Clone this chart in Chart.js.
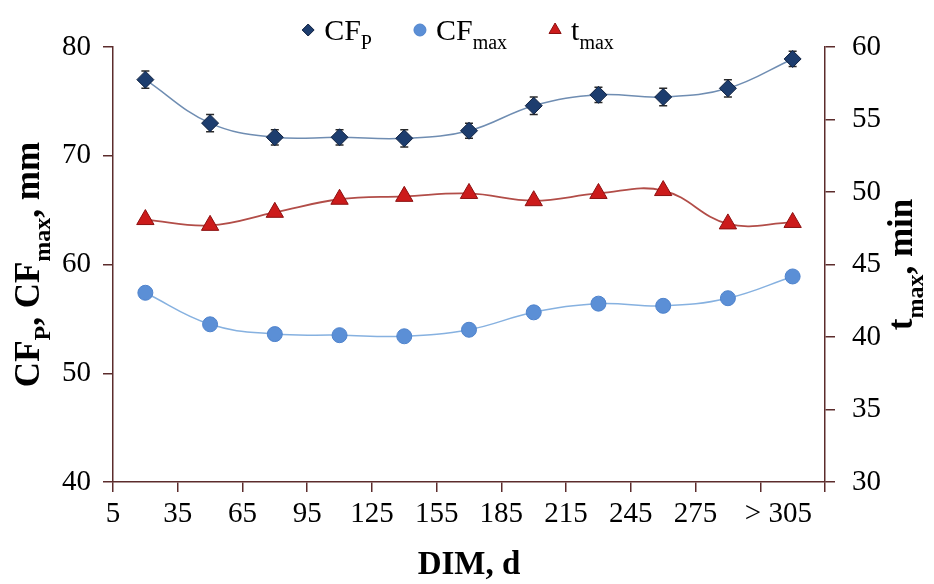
<!DOCTYPE html>
<html>
<head>
<meta charset="utf-8">
<title>CF and t_max over DIM</title>
<script src="https://cdn.jsdelivr.net/npm/chart.js@4.4.1/dist/chart.umd.min.js"></script>
<style>
  html, body { margin: 0; padding: 0; background: #fff; }
  #wrap { width: 934px; height: 584px; }
</style>
</head>
<body>
<div id="wrap"><canvas id="dimChart" width="934" height="584"></canvas></div>
<script>
// DIM classes (days in milk): labels sit on class boundaries,
// measured values sit in the middle of each class
const dimTicks = [5, 35, 65, 95, 125, 155, 185, 215, 245, 275, 305, 335];
const dimTickLabels = ['5', '35', '65', '95', '125', '155', '185', '215', '245', '275', '     > 305', ''];
const dimMid = [20, 50, 80, 110, 140, 170, 200, 230, 260, 290, 320];

// CF_P and CF_max in mm (left axis), t_max in min (right axis)
const cfP    = [77.0, 73.0, 71.7, 71.7, 71.6, 72.3, 74.6, 75.6, 75.4, 76.2, 78.9];
const cfPErr = [0.8, 0.8, 0.7, 0.7, 0.8, 0.7, 0.8, 0.7, 0.8, 0.8, 0.7];
const cfMax  = [57.4, 54.5, 53.6, 53.5, 53.4, 54.0, 55.6, 56.4, 56.2, 56.9, 58.9];
const tMax   = [48.1, 47.7, 48.6, 49.5, 49.7, 49.9, 49.4, 49.9, 50.1, 47.8, 47.9];

const axisColor = '#5c2c2c';
const serif = '"Liberation Serif", "Times New Roman", serif';
const tickFont = { family: serif, size: 29 };

function points(ys) {
    return dimMid.map((x, i) => ({ x: x, y: ys[i] }));
}

// text with subscripts: parts = [[text, isSub], ...], y is the baseline
function richWidth(ctx, parts, size, bold) {
    let w = 0;
    parts.forEach(p => {
        ctx.font = (bold ? 'bold ' : '') + (p[1] ? Math.round(size * 0.68) : size) + 'px ' + serif;
        w += ctx.measureText(p[0]).width;
    });
    return w;
}

function drawRich(ctx, parts, x, y, size, bold) {
    let cx = x;
    parts.forEach(p => {
        ctx.font = (bold ? 'bold ' : '') + (p[1] ? Math.round(size * 0.68) : size) + 'px ' + serif;
        ctx.fillText(p[0], cx, p[1] ? y + size * 0.3 : y);
        cx += ctx.measureText(p[0]).width;
    });
}

// vertical error bars with caps on the CF_P points
const errorBars = {
    id: 'errorBars',
    beforeDatasetsDraw(chart) {
        const ctx = chart.ctx;
        const xs = chart.scales.x, ys = chart.scales.y;
        ctx.save();
        ctx.strokeStyle = '#2a2a2a';
        ctx.lineWidth = 1.5;
        cfP.forEach((v, i) => {
            const px = xs.getPixelForValue(dimMid[i]);
            const top = ys.getPixelForValue(v + cfPErr[i]);
            const bot = ys.getPixelForValue(v - cfPErr[i]);
            ctx.beginPath();
            ctx.moveTo(px, top); ctx.lineTo(px, bot);
            ctx.moveTo(px - 4, top); ctx.lineTo(px + 4, top);
            ctx.moveTo(px - 4, bot); ctx.lineTo(px + 4, bot);
            ctx.stroke();
        });
        ctx.restore();
    }
};

// legend and axis titles (they need subscripts)
const titles = {
    id: 'titles',
    afterDraw(chart) {
        const ctx = chart.ctx;
        const area = chart.chartArea;
        const midY = (area.top + area.bottom) / 2;
        const midX = (area.left + area.right) / 2;
        ctx.save();
        ctx.fillStyle = '#000';
        ctx.textBaseline = 'alphabetic';

        // x title
        const xTitle = [['DIM, d', false]];
        drawRich(ctx, xTitle, midX - richWidth(ctx, xTitle, 33, true) / 2, 574, 33, true);

        // left title
        const lTitle = [['CF', false], ['P', true], [', CF', false], ['max', true], [', mm', false]];
        ctx.save();
        ctx.translate(39, midY);
        ctx.rotate(-Math.PI / 2);
        drawRich(ctx, lTitle, -richWidth(ctx, lTitle, 35, true) / 2, 0, 35, true);
        ctx.restore();

        // right title
        const rTitle = [['t', false], ['max', true], [', min', false]];
        ctx.save();
        ctx.translate(912, midY);
        ctx.rotate(-Math.PI / 2);
        drawRich(ctx, rTitle, -richWidth(ctx, rTitle, 35, true) / 2, 0, 35, true);
        ctx.restore();

        // legend
        const items = [
            { ds: 0, parts: [['CF', false], ['P', true]] },
            { ds: 1, parts: [['CF', false], ['max', true]] },
            { ds: 2, parts: [['t', false], ['max', true]] }
        ];
        const markW = 16, markGap = 8, itemGap = 40, lsize = 30;
        let total = 0;
        items.forEach((it, k) => {
            it.w = richWidth(ctx, it.parts, lsize, false);
            total += markW + markGap + it.w + (k ? itemGap : 0);
        });
        let lx = 457 - total / 2;
        const ly = 30;
        items.forEach(it => {
            const ds = chart.data.datasets[it.ds];
            ctx.fillStyle = ds.pointBackgroundColor;
            ctx.strokeStyle = ds.pointBorderColor;
            ctx.lineWidth = 1;
            Chart.helpers.drawPoint(ctx, {
                pointStyle: ds.pointStyle,
                radius: ds.pointStyle === 'triangle' ? 7 : 6,
                borderWidth: 1,
                rotation: 0
            }, lx + markW / 2, ly);
            ctx.fillStyle = '#000';
            drawRich(ctx, it.parts, lx + markW + markGap, ly + 10, lsize, false);
            lx += markW + markGap + it.w + itemGap;
        });
        ctx.restore();
    }
};

const ctx = document.getElementById('dimChart').getContext('2d');
const dimChart = new Chart(ctx, {
    type: 'line',
    data: {
        datasets: [{
            label: 'CF_P',
            data: points(cfP),
            yAxisID: 'y',
            borderColor: '#6f8db2',
            borderWidth: 1.5,
            tension: 0.4,
            pointStyle: 'rectRot',
            pointRadius: 8.5,
            pointBackgroundColor: '#1d3d6e',
            pointBorderColor: '#0f2140',
            pointBorderWidth: 1
        }, {
            label: 'CF_max',
            data: points(cfMax),
            yAxisID: 'y',
            borderColor: '#86b1e0',
            borderWidth: 1.5,
            tension: 0.4,
            pointStyle: 'circle',
            pointRadius: 7.5,
            pointBackgroundColor: '#5b8fd6',
            pointBorderColor: '#4f83cc',
            pointBorderWidth: 1
        }, {
            label: 't_max',
            data: points(tMax),
            yAxisID: 'y2',
            borderColor: '#b24d48',
            borderWidth: 1.8,
            tension: 0.4,
            pointStyle: 'triangle',
            pointRadius: 10,
            pointBackgroundColor: '#cc1b1b',
            pointBorderColor: '#8c1010',
            pointBorderWidth: 1
        }]
    },
    options: {
        responsive: false,
        animation: false,
        layout: { padding: { top: 47, left: 0, right: 0, bottom: 0 } },
        plugins: {
            legend: { display: false },
            tooltip: { enabled: false }
        },
        scales: {
            x: {
                type: 'linear',
                min: 5,
                max: 335,
                afterBuildTicks: axis => { axis.ticks = dimTicks.map(v => ({ value: v })); },
                afterFit: s => { s.height = 102; },
                ticks: {
                    callback: (value, index) => dimTickLabels[index],
                    autoSkip: false,
                    maxRotation: 0,
                    color: '#000',
                    padding: 5,
                    font: tickFont
                },
                grid: { drawOnChartArea: false, color: axisColor, tickLength: 10, lineWidth: 1.5 },
                border: { color: axisColor, width: 1.5 }
            },
            y: {
                position: 'left',
                min: 40,
                max: 80,
                afterFit: s => { s.width = 113; },
                ticks: {
                    stepSize: 10,
                    color: '#000',
                    padding: 12,
                    font: tickFont
                },
                grid: { drawOnChartArea: false, color: axisColor, tickLength: 10, lineWidth: 1.5 },
                border: { color: axisColor, width: 1.5 }
            },
            y2: {
                position: 'right',
                min: 30,
                max: 60,
                afterFit: s => { s.width = 109; },
                ticks: {
                    stepSize: 5,
                    color: '#000',
                    padding: 17,
                    font: tickFont
                },
                grid: { drawOnChartArea: false, color: axisColor, tickLength: 10, lineWidth: 1.5 },
                border: { color: axisColor, width: 1.5 }
            }
        }
    },
    plugins: [errorBars, titles]
});
</script>
</body>
</html>
